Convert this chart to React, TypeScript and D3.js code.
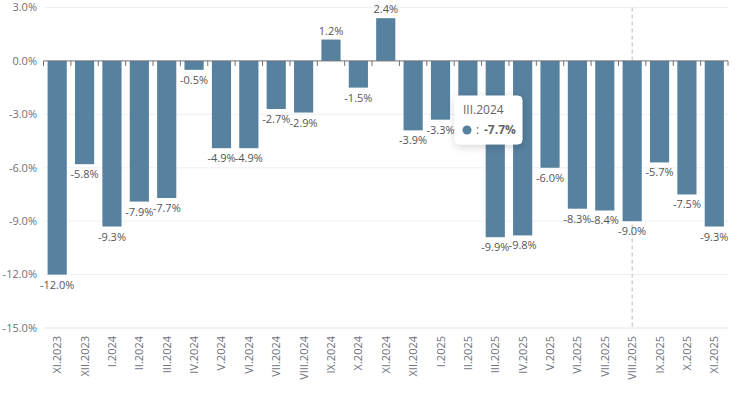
import React from "react";
import * as d3 from "d3";

const categories = ["XI.2023","XII.2023","I.2024","II.2024","III.2024","IV.2024","V.2024","VI.2024","VII.2024","VIII.2024","IX.2024","X.2024","XI.2024","XII.2024","I.2025","II.2025","III.2025","IV.2025","V.2025","VI.2025","VII.2025","VIII.2025","IX.2025","X.2025","XI.2025"];
const values = [-12.0,-5.8,-9.3,-7.9,-7.7,-0.5,-4.9,-4.9,-2.7,-2.9,1.2,-1.5,2.4,-3.9,-3.3,-3.2,-9.9,-9.8,-6.0,-8.3,-8.4,-9.0,-5.7,-7.5,-9.3];
const yTicks = [3,0,-3,-6,-9,-12,-15];
const tooltipCategory = "III.2024";
const tooltipValue = -7.7;
const crosshairCategory = "VIII.2025";

const W = 740, H = 397;
const FONT = "'Open Sans', 'Noto Sans', sans-serif";

export default function App() {
  const x = d3.scaleBand<string>().domain(categories).range([43.5, 728]).paddingInner(0.3).paddingOuter(0.15);
  const y = d3.scaleLinear().domain([-15, 3]).range([328, 7.5]);
  const step = x.step();
  const fmt = (v: number) => v.toFixed(1) + "%";
  const y0 = y(0);
  const cx = (c: string) => (x(c) as number) + x.bandwidth() / 2;
  const tipX = 455, tipY = 96;
  return (
    <svg width={W} height={H} style={{ position: "absolute", left: 0, top: 0, fontFamily: FONT }}>
      <defs>
        <filter id="sh" x="-30%" y="-30%" width="160%" height="160%">
          <feDropShadow dx="1" dy="2" stdDeviation="4" floodColor="#000" floodOpacity="0.18" />
        </filter>
      </defs>
      <rect width={W} height={H} fill="#fff" />
      {yTicks.map(t => (
        <g key={t}>
          {t !== 0 && t !== -15 && (
            <line x1={43.5} x2={728} y1={y(t)} y2={y(t)} stroke="#eef0f6" strokeWidth={1} />
          )}
          <text x={37} y={y(t)} dy="0.35em" textAnchor="end" fontSize={11} fill="#6e7079">{fmt(t)}</text>
        </g>
      ))}
      <line x1={43.5} x2={728} y1={y(-15)} y2={y(-15)} stroke="#e0e6f1" strokeWidth={1} />
      <line x1={cx(crosshairCategory)} x2={cx(crosshairCategory)} y1={y(3)} y2={y(-15)} stroke="#b8b8b8" strokeDasharray="4,3" strokeWidth={1} />
      {categories.map((c, i) => {
        const v = values[i];
        const top = Math.min(y(v), y0);
        const h = Math.abs(y(v) - y0);
        return (
          <g key={c}>
            <rect x={x(c)} y={top} width={x.bandwidth()} height={h} fill="#56819f" />
            <text x={cx(c)} y={v >= 0 ? y(v) - 5 : y(v) + 14} textAnchor="middle" fontSize={11} fill="#555">{fmt(v)}</text>
            <text transform={`translate(${cx(c) + 4},336) rotate(-90)`} textAnchor="end" fontSize={11} fill="#6e7079">{c}</text>
          </g>
        );
      })}
      <line x1={43.5} x2={728} y1={y0} y2={y0} stroke="#6e7079" strokeWidth={1} />
      {d3.range(categories.length + 1).map(i => {
        const tx = 43.5 + step * 0.15 - step * 0.3 / 2 + i * step;
        return <line key={i} x1={tx} x2={tx} y1={y0} y2={y0 + 5} stroke="#6e7079" strokeWidth={1} />;
      })}
      <g filter="url(#sh)">
        <rect x={tipX} y={tipY} width={67} height={48} rx={4} fill="#fff" stroke="#fff" />
      </g>
      <text x={tipX + 8} y={tipY + 18} fontSize={12} fill="#666">{tooltipCategory}</text>
      <circle cx={tipX + 12} cy={tipY + 34} r={4.5} fill="#56819f" />
      <text x={tipX + 21} y={tipY + 38} fontSize={12} fill="#666">:</text>
      <text x={tipX + 29} y={tipY + 38} fontSize={12} fontWeight="bold" fill="#666">{fmt(tooltipValue)}</text>
    </svg>
  );
}
